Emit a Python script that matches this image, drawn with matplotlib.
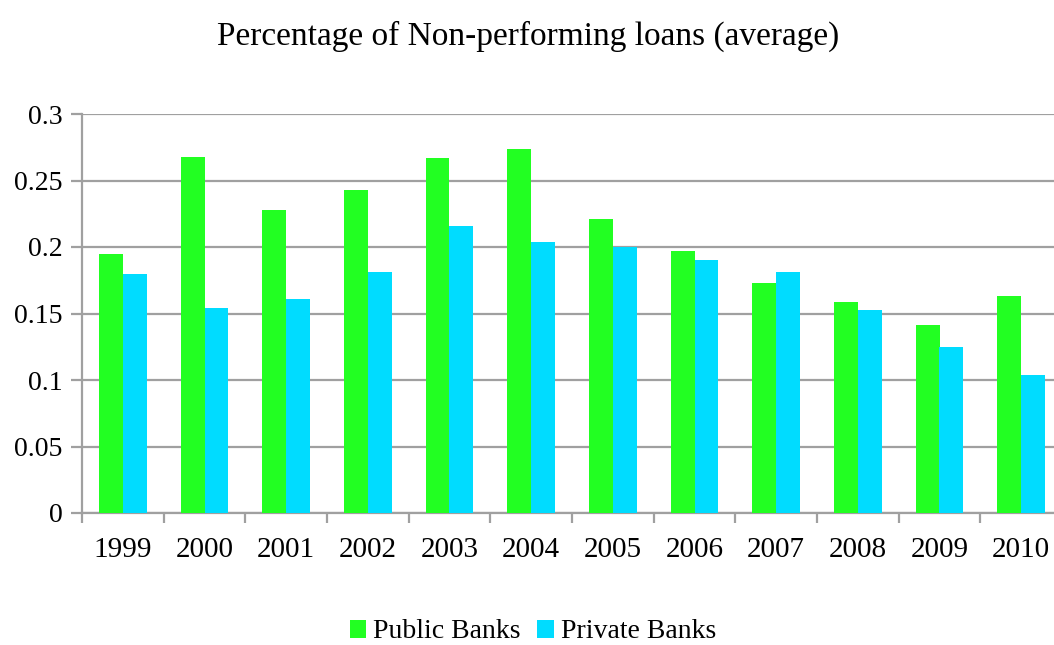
import numpy as np
import matplotlib
matplotlib.use("Agg")
import matplotlib.pyplot as plt

# Average share of non-performing loans, public vs private banks
years = ["1999", "2000", "2001", "2002", "2003", "2004",
         "2005", "2006", "2007", "2008", "2009", "2010"]
public_banks = [0.195, 0.268, 0.228, 0.243, 0.267, 0.274,
                0.221, 0.197, 0.173, 0.159, 0.141, 0.163]
private_banks = [0.180, 0.154, 0.161, 0.181, 0.216, 0.204,
                 0.200, 0.190, 0.181, 0.153, 0.125, 0.104]

GREEN = "#22ff22"
CYAN = "#00dcff"
GRID = "#a0a0a0"

plt.rcParams["font.family"] = ["Liberation Serif", "DejaVu Serif"]


def main() -> None:
    fig = plt.figure(figsize=(10.54, 6.45), dpi=100)
    # axes runs past the right edge of the picture, as in the reference
    ax = fig.add_axes([82 / 1054, (645 - 513) / 645, 980 / 1054, 399 / 645])

    x = np.arange(len(years))
    w = 0.29
    ax.bar(x - w / 2, public_banks, w, color=GREEN, label="Public Banks", zorder=3)
    ax.bar(x + w / 2, private_banks, w, color=CYAN, label="Private Banks", zorder=3)

    ax.set_xlim(-0.5, len(years) - 0.5)
    ax.set_ylim(0, 0.3)
    ax.set_yticks([0, 0.05, 0.1, 0.15, 0.2, 0.25, 0.3])
    ax.set_yticklabels(["0", "0.05", "0.1", "0.15", "0.2", "0.25", "0.3"])
    ax.yaxis.grid(True, color=GRID, linewidth=1.6, zorder=0)

    # category ticks sit on the boundaries, labels in the middle
    ax.set_xticks(np.arange(len(years) + 1) - 0.5)
    ax.set_xticklabels([])
    ax.set_xticks(x, minor=True)
    ax.set_xticklabels(years, minor=True)
    ax.tick_params(axis="x", which="major", length=7.5, width=1.6, color=GRID, direction="out")
    ax.tick_params(axis="x", which="minor", length=0, pad=17, labelsize=21)
    ax.tick_params(axis="y", length=8, width=1.6, color=GRID, labelsize=20, pad=6)

    for side in ["top", "right"]:
        ax.spines[side].set_visible(False)
    for side in ["left", "bottom"]:
        ax.spines[side].set_color(GRID)
        ax.spines[side].set_linewidth(1.6)

    fig.text(528 / 1054, 1 - 36 / 645, "Percentage of Non-performing loans (average)",
             ha="center", va="center", fontsize=24)

    fig.legend(loc="center", bbox_to_anchor=(533 / 1054, 1 - 632 / 645), ncol=2,
               frameon=False, fontsize=20, handlelength=0.6, handleheight=0.6,
               handletextpad=0.25, columnspacing=0.6)

    fig.savefig("out.png", dpi=100)


if __name__ == '__main__':
    main()
